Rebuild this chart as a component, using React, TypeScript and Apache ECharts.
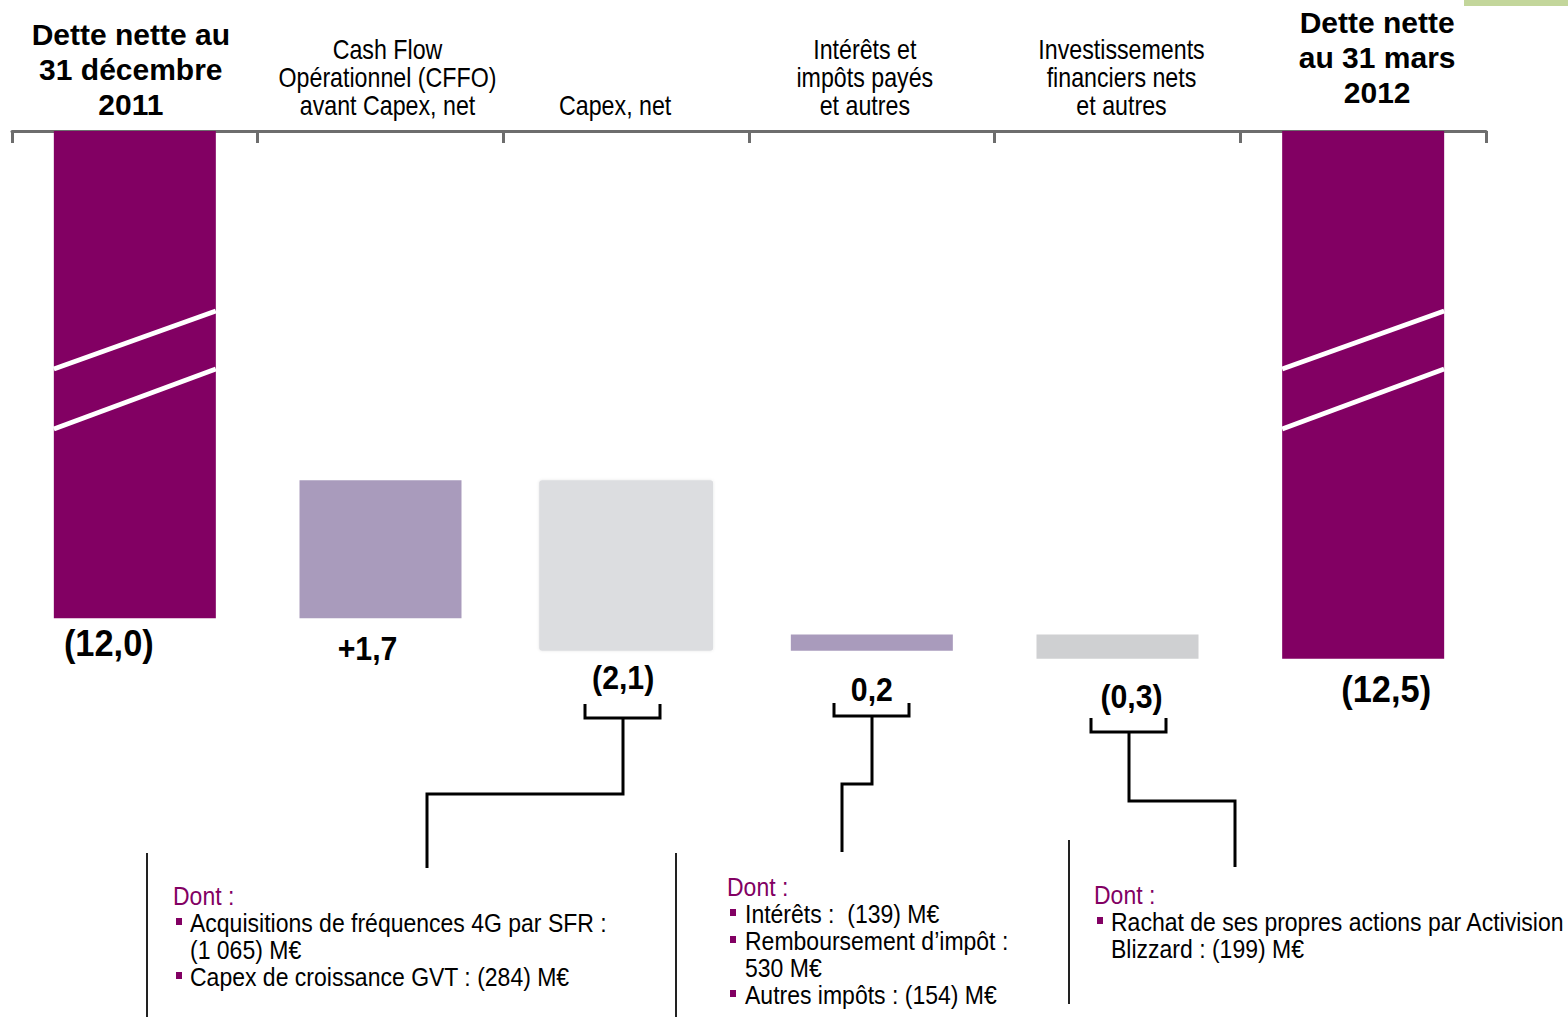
import React, { useEffect, useRef } from "react";
import * as echarts from "echarts";

// ---------- DATA ----------
const categories = [
  "Dette nette au\n31 décembre\n2011",
  "Cash Flow\nOpérationnel (CFFO)\navant Capex, net",
  "Capex, net",
  "Intérêts et\nimpôts payés\net autres",
  "Investissements\nfinanciers nets\net autres",
  "Dette nette\nau 31 mars\n2012",
];
const openingDebt = 12.0; // Md€
const closingDebt = 12.5; // Md€
// change in net debt for each intermediate step (negative = debt reduction)
const debtChanges = [-1.7, 2.1, -0.2, 0.3];
const valueLabels = ["(12,0)", "+1,7", "(2,1)", "0,2", "(0,3)", "(12,5)"];

const noteCapex = {
  title: "Dont :",
  items: [["Acquisitions de fréquences 4G par SFR :", "(1 065) M€"], ["Capex de croissance GVT : (284) M€"]],
};
const noteInterets = {
  title: "Dont :",
  items: [["Intérêts :  (139) M€"], ["Remboursement d’impôt :", "530 M€"], ["Autres impôts : (154) M€"]],
};
const noteInvest = {
  title: "Dont :",
  items: [["Rachat de ses propres actions par Activision", "Blizzard : (199) M€"]],
};

// ---------- STYLE ----------
const PURPLE = "#820063";
const LILAC = "#A99BBC";
const GREY_CAPEX = "#DCDDE0";
const GREY = "#CFD0D2";
const barColors = [PURPLE, LILAC, GREY_CAPEX, LILAC, GREY, PURPLE];
const CAPEX_IDX = 2;
const FONT = "'Liberation Sans', Arial, sans-serif";
const catLabelDx = [-4, 7, -11, -7, 4, 14];
const catLabelBottom = [122, 119, 119, 119, 119, 110];
const valueLabelDx = [-26, -13, -3, 0, 14, 23];
const valueLabelDy = [25, 30, 27, 39, 38, 31];

function buildWaterfall() {
  const base: number[] = [0];
  const heights: number[] = [openingDebt];
  let running = openingDebt;
  for (const c of debtChanges) {
    const next = running + c;
    base.push(Math.min(running, next));
    heights.push(Math.abs(c));
    running = next;
  }
  base.push(0);
  heights.push(closingDebt);
  const bottoms = base.map((b, i) => b + heights[i]);
  return { base, heights, bottoms };
}

function txt(x: number, y: number, text: string, font: string, sx: number, align: string, vAlign: string, fill = "#000", lineHeight?: number) {
  return {
    type: "text",
    x,
    y,
    z: 20,
    scaleX: sx,
    style: { text, font, fill, textAlign: align, textVerticalAlign: vAlign, lineHeight },
  };
}

function noteElements(note: { title: string; items: string[][] }, x: number, y: number, lh: number, indent: number) {
  const els: any[] = [];
  const f = `25px ${FONT}`;
  els.push(txt(x, y, note.title, f, 0.92, "left", "middle", PURPLE));
  let line = 1;
  for (const item of note.items) {
    els.push({ type: "rect", z: 20, shape: { x: x + 3, y: y + line * lh - 5, width: 6, height: 7 }, style: { fill: PURPLE } });
    item.forEach((t) => {
      els.push(txt(x + indent, y + line * lh, t, f, 0.92, "left", "middle"));
      line++;
    });
  }
  return els;
}

export default function App() {
  const ref = useRef<HTMLDivElement>(null);
  useEffect(() => {
    if (!ref.current) return;
    const chart = echarts.init(ref.current, undefined, { renderer: "svg" });
    const { base, heights, bottoms } = buildWaterfall();
    const gridBox = { left: 12, right: 82, top: 131, height: 812 };
    const yCommon = { type: "value", inverse: true, min: 6, max: 16, show: false };
    chart.setOption({
      animation: false,
      backgroundColor: "#fff",
      grid: [gridBox, gridBox],
      xAxis: [
        {
          type: "category",
          position: "top",
          data: categories,
          axisLine: { show: true, lineStyle: { color: "#6d6d6d", width: 3 } },
          axisTick: { show: true, inside: true, length: 12, lineStyle: { color: "#6d6d6d", width: 3 } },
          axisLabel: { show: false },
        },
        { type: "category", gridIndex: 1, data: categories, show: false },
      ],
      yAxis: [yCommon, { ...yCommon, gridIndex: 1 }],
      series: [
        {
          type: "bar",
          stack: "wf",
          silent: true,
          itemStyle: { color: "transparent" },
          data: base,
          barWidth: 162,
        },
        {
          type: "bar",
          stack: "wf",
          barWidth: 162,
          data: heights.map((h, i) => (i === CAPEX_IDX ? "-" : { value: h, itemStyle: { color: barColors[i] } })),
        },
        // capex bar drawn a little wider, on an identical overlaid grid
        {
          type: "bar",
          stack: "cx",
          xAxisIndex: 1,
          yAxisIndex: 1,
          silent: true,
          itemStyle: { color: "transparent" },
          data: base.map((b, i) => (i === CAPEX_IDX ? b : "-")),
          barWidth: 174,
        },
        {
          type: "bar",
          stack: "cx",
          xAxisIndex: 1,
          yAxisIndex: 1,
          barWidth: 174,
          itemStyle: { color: GREY_CAPEX, borderRadius: 3, shadowBlur: 3, shadowColor: "rgba(0,0,0,0.10)" },
          data: heights.map((h, i) => (i === CAPEX_IDX ? h : "-")),
        },
      ],
    });

    const g: any[] = [];
    // category labels above the axis
    categories.forEach((c, i) => {
      const cx = chart.convertToPixel({ xAxisIndex: 0 }, i) as number;
      const bold = i === 0 || i === categories.length - 1;
      g.push(
        bold
          ? txt(cx + catLabelDx[i], catLabelBottom[i], c, `bold 30px ${FONT}`, 1.0, "center", "bottom", "#000", 35)
          : txt(cx + catLabelDx[i], catLabelBottom[i], c, `27px ${FONT}`, 0.86, "center", "bottom", "#000", 28)
      );
    });
    // value labels under each bar
    bottoms.forEach((b, i) => {
      const p = chart.convertToPixel({ xAxisIndex: 0, yAxisIndex: 0 }, [i, b]) as number[];
      const big = i === 0 || i === bottoms.length - 1;
      g.push(
        txt(p[0] + valueLabelDx[i], p[1] + valueLabelDy[i], valueLabels[i], `bold ${big ? 37 : 34}px ${FONT}`, big ? 0.93 : 0.89, "center", "middle")
      );
    });
    // axis-break strokes on the two total bars
    [0, 5].forEach((i) => {
      const cx = chart.convertToPixel({ xAxisIndex: 0 }, i) as number;
      const x0 = cx - 81;
      const x1 = cx + 81;
      g.push({ type: "line", z: 50, shape: { x1: x0, y1: 369, x2: x1, y2: 311 }, style: { stroke: "#fff", lineWidth: 5 } });
      g.push({ type: "line", z: 50, shape: { x1: x0, y1: 429, x2: x1, y2: 369 }, style: { stroke: "#fff", lineWidth: 5 } });
    });
    const bk = { stroke: "#000", lineWidth: 3, fill: "none" };
    // capex bracket
    g.push({ type: "polyline", shape: { points: [[585, 704], [585, 718], [660, 718], [660, 704]] }, style: bk });
    g.push({ type: "polyline", shape: { points: [[623, 718], [623, 794], [427, 794], [427, 868]] }, style: bk });
    // interest bracket
    g.push({ type: "polyline", shape: { points: [[834, 703], [834, 716], [909, 716], [909, 703]] }, style: bk });
    g.push({ type: "polyline", shape: { points: [[872, 716], [872, 784], [842, 784], [842, 852]] }, style: bk });
    // investments bracket
    g.push({ type: "polyline", shape: { points: [[1091, 718], [1091, 732], [1166, 732], [1166, 718]] }, style: bk });
    g.push({ type: "polyline", shape: { points: [[1129, 732], [1129, 801], [1235, 801], [1235, 867]] }, style: bk });
    // separators
    const sep = { stroke: "#222", lineWidth: 2 };
    g.push({ type: "line", shape: { x1: 147, y1: 853, x2: 147, y2: 1017 }, style: sep });
    g.push({ type: "line", shape: { x1: 676, y1: 853, x2: 676, y2: 1017 }, style: sep });
    g.push({ type: "line", shape: { x1: 1069, y1: 840, x2: 1069, y2: 1004 }, style: sep });
    // notes
    g.push(...noteElements(noteCapex, 173, 896, 27, 17));
    g.push(...noteElements(noteInterets, 727, 887, 27, 18));
    g.push(...noteElements(noteInvest, 1094, 895, 27, 17));
    // top-right accent
    g.push({ type: "rect", shape: { x: 1464, y: 0, width: 104, height: 6 }, style: { fill: "#C3D69B" } });
    chart.setOption({ graphic: g });

    return () => chart.dispose();
  }, []);
  return <div ref={ref} style={{ position: "fixed", left: 0, top: 0, width: 1568, height: 1017 }} />;
}
